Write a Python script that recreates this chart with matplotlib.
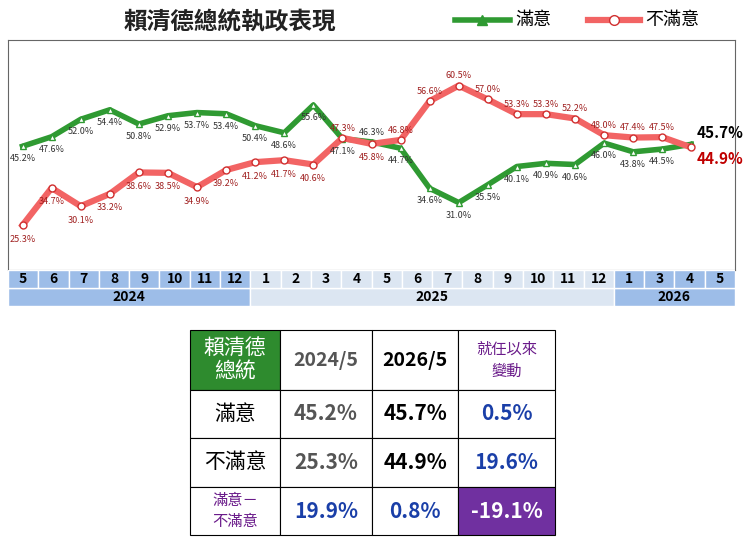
import matplotlib
matplotlib.use("Agg")
import matplotlib.pyplot as plt
from matplotlib.patches import Rectangle

plt.rcParams['font.family'] = ['Noto Sans CJK TC', 'DejaVu Sans']

months = ['5','6','7','8','9','10','11','12','1','2','3','4','5','6','7','8','9','10','11','12','1','3','4','5']
years = [('2024', 0, 8), ('2025', 8, 20), ('2026', 20, 24)]
sat = [45.2,47.6,52.0,54.4,50.8,52.9,53.7,53.4,50.4,48.6,55.6,47.1,46.3,44.7,34.6,31.0,35.5,40.1,40.9,40.6,46.0,43.8,44.5,45.7]
dis = [25.3,34.7,30.1,33.2,38.6,38.5,34.9,39.2,41.2,41.7,40.6,47.3,45.8,46.8,56.6,60.5,57.0,53.3,53.3,52.2,48.0,47.4,47.5,44.9]
sat_above = {12}
dis_above = {11,13,14,15,16,17,18,19,20,21,22}

tbl_cols = ['賴清德\n總統', '2024/5', '2026/5', '就任以來\n變動']
tbl_rows = ['滿意', '不滿意', '滿意－\n不滿意']
tbl_vals = [['45.2%','45.7%','0.5%'], ['25.3%','44.9%','19.6%'], ['19.9%','0.8%','-19.1%']]

W, H = 750, 549
fig = plt.figure(figsize=(7.5, 5.49), dpi=100)
def fr(x0, y0, x1, y1):
    return [x0/W, 1-y1/H, (x1-x0)/W, (y1-y0)/H]

GREEN = '#2f9a32'; RED = '#f26464'
ax = fig.add_axes(fr(8, 40, 735, 270))
x = list(range(len(months)))
ax.plot(x, sat, color=GREEN, lw=4, marker='^', ms=5, mfc='white', mec=GREEN, mew=1, zorder=3)
ax.plot(x, dis, color=RED, lw=4.5, marker='o', ms=5, mfc='white', mec='#d03030', mew=1, zorder=3)
ax.set_xlim(-0.5, 24.5); ax.set_ylim(14, 72)
ax.set_xticks([]); ax.set_yticks([])
for s in ax.spines.values():
    s.set_color('#666'); s.set_linewidth(0.8)
n = len(x)
for i in range(n - 1):
    off = 7 if i in sat_above else -9
    ax.annotate(f'{sat[i]:.1f}%', (i, sat[i]), xytext=(0, off), textcoords='offset points',
                ha='center', va='center', fontsize=6.5, color='#333')
    off = 7 if i in dis_above else -10
    ax.annotate(f'{dis[i]:.1f}%', (i, dis[i]), xytext=(0, off), textcoords='offset points',
                ha='center', va='center', fontsize=6.5, color='#a02020')
ax.annotate(f'{sat[-1]:.1f}%', (n-1, sat[-1]), xytext=(4, 8), textcoords='offset points',
            ha='left', va='center', fontsize=11, fontweight='bold', color='black')
ax.annotate(f'{dis[-1]:.1f}%', (n-1, dis[-1]), xytext=(4, -8), textcoords='offset points',
            ha='left', va='center', fontsize=11, fontweight='bold', color='#c00000')

# axis label rows
ax2 = fig.add_axes(fr(8, 270, 735, 306))
ax2.set_xlim(-0.5, 23.5); ax2.set_ylim(0, 2); ax2.axis('off')
for name, a, b in years:
    c = '#dce6f2' if name == '2025' else '#9dbde8'
    ax2.add_patch(Rectangle((a-0.5, 0), b-a, 1, fc=c, ec='white', lw=1))
    ax2.text((a+b-1)/2, 0.5, name, ha='center', va='center', fontsize=10, fontweight='bold')
    for i in range(a, b):
        ax2.add_patch(Rectangle((i-0.5, 1), 1, 1, fc=c, ec='white', lw=1))
        ax2.text(i, 1.5, months[i], ha='center', va='center', fontsize=10, fontweight='bold')

fig.text(230/W, 1-22/H, '賴清德總統執政表現', ha='center', va='center', fontsize=17, fontweight='bold', color='#222')
# legend
fig.lines.append(plt.Line2D([455/W, 510/W], [1-20/H]*2, color=GREEN, lw=4, transform=fig.transFigure))
fig.lines.append(plt.Line2D([482/W], [1-20/H], marker='^', color=GREEN, ms=7, transform=fig.transFigure))
fig.text(515/W, 1-20/H, '滿意', ha='left', va='center', fontsize=13)
fig.lines.append(plt.Line2D([588/W, 640/W], [1-20/H]*2, color=RED, lw=4.5, transform=fig.transFigure))
fig.lines.append(plt.Line2D([614/W], [1-20/H], marker='o', color=RED, mfc='white', mec='#d03030', ms=7, transform=fig.transFigure))
fig.text(645/W, 1-20/H, '不滿意', ha='left', va='center', fontsize=13)

# table
at = fig.add_axes([0, 0, 1, 1]); at.set_xlim(0, W); at.set_ylim(H, 0); at.axis('off'); at.set_zorder(-1)
cx = [190, 280, 372, 458, 555]
ry = [330, 390, 438, 487, 535]
BLUE = '#1a3fa8'; PURPLE = '#6a1b8a'
for r in range(4):
    for c in range(4):
        fc = 'white'
        if r == 0 and c == 0: fc = '#2e8b2e'
        if r == 3 and c == 3: fc = '#7030a0'
        at.add_patch(Rectangle((cx[c], ry[r]), cx[c+1]-cx[c], ry[r+1]-ry[r], fc=fc, ec='black', lw=0.8))
def ctext(c, r, s, **kw):
    at.text((cx[c]+cx[c+1])/2, (ry[r]+ry[r+1])/2, s, ha='center', va='center', **kw)
ctext(0, 0, tbl_cols[0], fontsize=15, color='white', linespacing=1.1)
ctext(1, 0, tbl_cols[1], fontsize=14, fontweight='bold', color='#555')
ctext(2, 0, tbl_cols[2], fontsize=14, fontweight='bold', color='black')
ctext(3, 0, tbl_cols[3], fontsize=11, color=PURPLE, linespacing=1.4)
for r in range(3):
    lab_kw = dict(fontsize=15, color='black')
    if r == 2: lab_kw = dict(fontsize=11, color=PURPLE, linespacing=1.3)
    ctext(0, r+1, tbl_rows[r], **lab_kw)
    v = tbl_vals[r]
    if r < 2:
        ctext(1, r+1, v[0], fontsize=15, fontweight='bold', color='#555')
        ctext(2, r+1, v[1], fontsize=15, fontweight='bold', color='black')
        ctext(3, r+1, v[2], fontsize=15, fontweight='bold', style='italic', color=BLUE)
    else:
        ctext(1, r+1, v[0], fontsize=15, fontweight='bold', style='italic', color=BLUE)
        ctext(2, r+1, v[1], fontsize=15, fontweight='bold', style='italic', color=BLUE)
        ctext(3, r+1, v[2], fontsize=15, fontweight='bold', color='white')

fig.savefig('out.png', dpi=100)
